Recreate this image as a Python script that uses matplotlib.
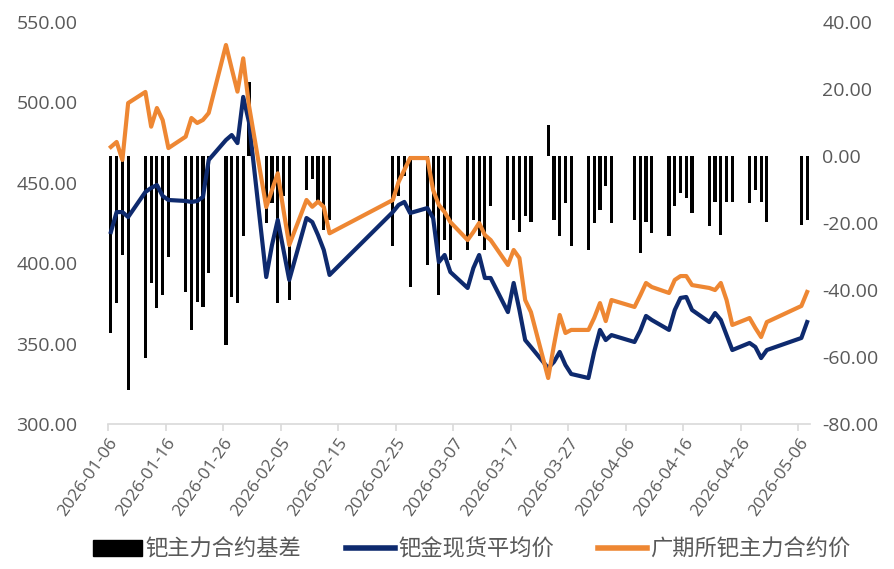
import matplotlib
matplotlib.use("Agg")
import matplotlib.pyplot as plt
import matplotlib.ticker as mticker
from matplotlib.patches import Patch
from matplotlib.lines import Line2D
import pandas as pd

dates = [
    "2026-01-06", "2026-01-07", "2026-01-08", "2026-01-09",
    "2026-01-12", "2026-01-13", "2026-01-14", "2026-01-15", "2026-01-16",
    "2026-01-19", "2026-01-20", "2026-01-21", "2026-01-22", "2026-01-23",
    "2026-01-26", "2026-01-27", "2026-01-28", "2026-01-29", "2026-01-30",
    "2026-02-02", "2026-02-03", "2026-02-04", "2026-02-05", "2026-02-06",
    "2026-02-09", "2026-02-10", "2026-02-11", "2026-02-12", "2026-02-13",
    "2026-02-24", "2026-02-25", "2026-02-26", "2026-02-27",
    "2026-03-02", "2026-03-03", "2026-03-04", "2026-03-05", "2026-03-06",
    "2026-03-09", "2026-03-10", "2026-03-11", "2026-03-12", "2026-03-13",
    "2026-03-16", "2026-03-17", "2026-03-18", "2026-03-19", "2026-03-20",
    "2026-03-23", "2026-03-24", "2026-03-25", "2026-03-26", "2026-03-27",
    "2026-03-30", "2026-03-31", "2026-04-01", "2026-04-02", "2026-04-03",
    "2026-04-07", "2026-04-08", "2026-04-09", "2026-04-10",
    "2026-04-13", "2026-04-14", "2026-04-15", "2026-04-16", "2026-04-17",
    "2026-04-20", "2026-04-21", "2026-04-22", "2026-04-23", "2026-04-24",
    "2026-04-27", "2026-04-28", "2026-04-29", "2026-04-30",
    "2026-05-06", "2026-05-07",
]

spot_avg = [
    419.4, 431.8, 431.8, 428.7,
    444.3, 446.8, 448.6, 441.8, 439.3,
    438.7, 438.1, 438.7, 441.2, 464.2,
    476.6, 479.7, 474.7, 503.4, 487.8,
    391.4, 411.3, 426.9, 408.2, 389.6,
    428.1, 425.6, 417.5, 408.2, 392.7,
    431.8, 436.2, 438.1, 431.2,
    434.3, 428.1, 400.7, 405.1, 394.5,
    384.6, 397.0, 405.1, 390.8, 390.8,
    369.6, 387.7, 370.9, 352.2, 347.9,
    334.8, 338.6, 344.8, 336.7, 331.1,
    328.6, 345.0, 358.5, 352.2, 355.3,
    351.0, 358.0, 367.2, 364.7,
    358.5, 370.9, 378.4, 379.0, 370.9,
    363.4, 369.0, 364.7, 355.3, 346.0,
    350.4, 347.9, 341.0, 346.0,
    353.5, 363.4,
]

futures_main = [
    472.3, 475.4, 464.2, 499.6,
    506.5, 484.9, 496.5, 489.0, 471.6,
    478.7, 490.3, 487.2, 489.1, 493.4,
    535.7, 521.0, 506.7, 527.4, 498.0,
    434.9, 445.5, 455.9, 433.0, 411.3,
    439.3, 435.1, 438.3, 435.0, 418.6,
    439.3, 450.5, 458.0, 465.4,
    465.4, 445.5, 436.2, 431.8, 425.6,
    414.4, 419.4, 425.0, 417.5, 414.4,
    398.9, 408.2, 403.2, 377.1, 369.6,
    328.6, 349.0, 367.8, 356.6, 358.5,
    358.5, 366.0, 375.2, 364.0, 377.1,
    372.8, 380.0, 387.7, 385.2,
    381.5, 389.6, 392.0, 392.0, 386.4,
    384.6, 383.3, 387.7, 377.1, 361.6,
    365.9, 359.7, 354.1, 363.4,
    373.4, 382.1,
]

basis = [
    -52.9, -44.0, -29.6, -69.8,
    -60.4, -38.0, -45.5, -41.5, -30.2,
    -40.5, -51.9, -43.5, -45.0, -35.0,
    -56.4, -42.0, -44.0, -24.0, 22.0,
    -20.0, -14.0, -44.0, -12.0, -43.0,
    -10.0, -7.0, -14.0, -22.0, -19.0,
    -27.0, -12.0, -6.0, -39.0,
    -32.5, -20.0, -41.5, -25.0, -31.0,
    -28.0, -19.0, -24.0, -28.0, -15.0,
    -28.0, -19.0, -22.6, -18.0, -19.6,
    9.3, -19.0, -24.0, -14.0, -27.0,
    -28.0, -20.0, -16.0, -9.0, -20.0,
    -19.0, -29.0, -19.6, -23.0,
    -24.0, -15.0, -11.0, -12.6, -17.0,
    -21.0, -13.6, -23.6, -13.6, -13.6,
    -14.0, -10.0, -13.6, -19.6,
    -20.6, -19.0,
]

tick_dates = ["2026-01-06", "2026-01-16", "2026-01-26", "2026-02-05", "2026-02-15",
              "2026-02-25", "2026-03-07", "2026-03-17", "2026-03-27", "2026-04-06",
              "2026-04-16", "2026-04-26", "2026-05-06"]
left_ticks = [300, 350, 400, 450, 500, 550]
right_ticks = [-80, -60, -40, -20, 0, 20, 40]
legend_labels = ["钯主力合约基差", "钯金现货平均价", "广期所钯主力合约价"]

plt.rcParams['font.family'] = ['Open Sans', 'Noto Sans CJK SC', 'DejaVu Sans']
TXT = "#595959"

start = pd.Timestamp(dates[0])
xd = [(pd.Timestamp(d) - start).days + 0.5 for d in dates]
xt = [(pd.Timestamp(d) - start).days for d in tick_dates]

fig = plt.figure(figsize=(8.94, 5.69), dpi=100)
L, R, T, B = 108, 810, 22, 424
ax = fig.add_axes([L / 894, 1 - B / 569, (R - L) / 894, (B - T) / 569])
ax2 = ax.twinx()

ax2.bar(xd, basis, width=0.55, color="black", zorder=2)
ax.plot(xd, spot_avg, color="#0E2A6E", lw=3.0, solid_joinstyle="round", zorder=3)
ax.plot(xd, futures_main, color="#EE8733", lw=3.0, solid_joinstyle="round", zorder=4)

ax.set_zorder(ax2.get_zorder() + 1)
ax.patch.set_visible(False)

ax.set_xlim(0, 122)
ax.set_ylim(300, 550)
ax2.set_ylim(-80, 40)
ax.set_yticks(left_ticks)
ax2.set_yticks(right_ticks)
ax.yaxis.set_major_formatter(mticker.FormatStrFormatter("%.2f"))
ax2.yaxis.set_major_formatter(mticker.FormatStrFormatter("%.2f"))
ax.set_xticks(xt)
ax.set_xticklabels(tick_dates, rotation=55, ha="right", rotation_mode="anchor")

for a in (ax, ax2):
    for s in ("top", "left", "right", "bottom"):
        a.spines[s].set_visible(False)
ax.spines["bottom"].set_visible(True)
ax.spines["bottom"].set_color("#D9D9D9")
ax.spines["bottom"].set_linewidth(1.2)

ax.tick_params(axis="y", length=0, labelsize=14, labelcolor=TXT, pad=22)
ax2.tick_params(axis="y", length=0, labelsize=14, labelcolor=TXT, pad=9)
ax.tick_params(axis="x", length=5, color="#D9D9D9", width=1.2, labelsize=12.5,
               labelcolor=TXT, pad=3)

handles = [Patch(facecolor="black", edgecolor="black"),
           Line2D([0], [0], color="#0E2A6E", lw=4),
           Line2D([0], [0], color="#EE8733", lw=4)]
fig.legend(handles, legend_labels, loc="center", bbox_to_anchor=(0.528, 1 - 549 / 569),
           ncol=3, frameon=False, labelcolor=TXT, handlelength=2.2,
           handleheight=0.75, columnspacing=2.0, handletextpad=0.15,
           prop={"family": ["Noto Sans CJK SC"], "size": 16})

fig.savefig("out.png", dpi=100)
